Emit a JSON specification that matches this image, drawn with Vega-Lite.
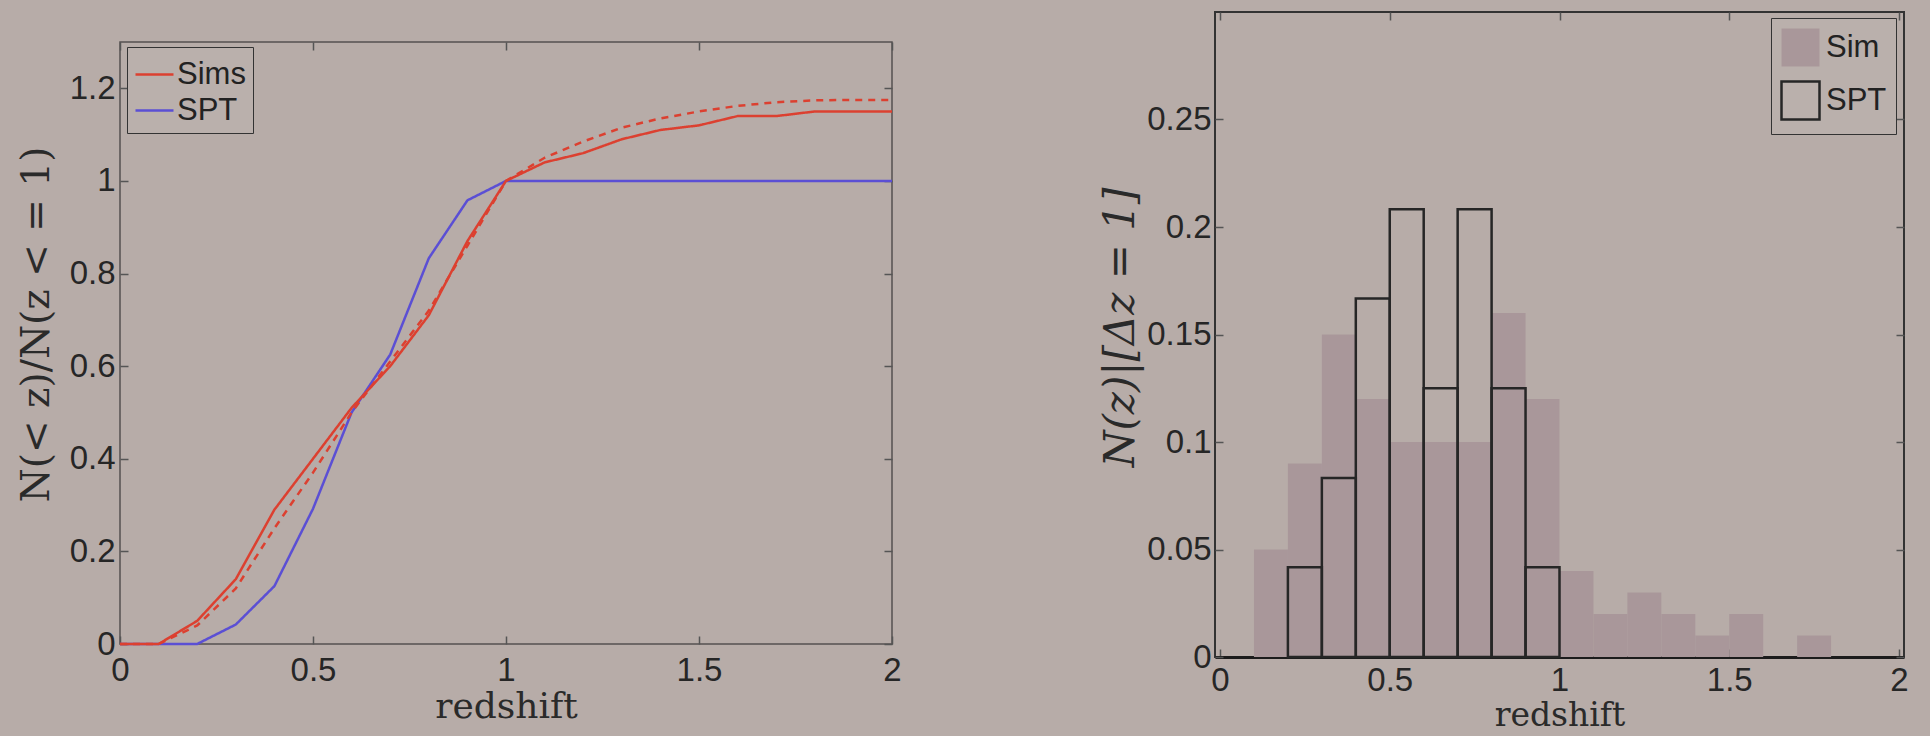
{
  "$schema": "https://vega.github.io/schema/vega-lite/v6.json",
  "autosize": {"type": "none"},
  "padding": {"left": 120, "top": 12, "right": 1810, "bottom": 724},
  "background": "#b7aca8",
  "spacing": 196,
  "config": {
    "axis": {
      "labelFont": "Liberation Sans",
      "labelFontSize": 33,
      "labelColor": "#262626",
      "titleFont": "DejaVu Serif",
      "titleFontSize": 36,
      "titleFontWeight": "normal",
      "titleColor": "#2a2a2a",
      "grid": false,
      "domain": false,
      "tickColor": "#555555",
      "tickWidth": 1.5,
      "tickSize": -8,
      "labelPadding": 18,
      "labelOverlap": false,
      "labelFlush": false,
      "labelBound": false,
      "format": "~g"
    },
    "legend": {
      "labelFont": "Liberation Sans",
      "labelFontSize": 31,
      "labelColor": "#222222",
      "strokeColor": "#333333",
      "fillColor": "#bab0ac",
      "cornerRadius": 0,
      "title": null
    }
  },
  "hconcat": [
    {
      "bounds": "flush",
      "spacing": 0,
      "vconcat": [
        {
          "width": 772,
          "height": 30,
          "view": {"stroke": null},
          "data": {"values": [{"a": 1}]},
          "mark": {"type": "point", "opacity": 0},
          "encoding": {}
        },
        {
          "width": 772,
          "height": 602,
          "view": {"stroke": "#555050", "strokeWidth": 1.5},
          "data": {
            "values": [
              {"z": 0, "n": 0, "series": "SPT"},
              {"z": 0.1, "n": 0, "series": "SPT"},
              {"z": 0.2, "n": 0, "series": "SPT"},
              {"z": 0.3, "n": 0.042, "series": "SPT"},
              {"z": 0.4, "n": 0.125, "series": "SPT"},
              {"z": 0.5, "n": 0.292, "series": "SPT"},
              {"z": 0.6, "n": 0.5, "series": "SPT"},
              {"z": 0.7, "n": 0.625, "series": "SPT"},
              {"z": 0.8, "n": 0.833, "series": "SPT"},
              {"z": 0.9, "n": 0.958, "series": "SPT"},
              {"z": 1.0, "n": 1.0, "series": "SPT"},
              {"z": 2.0, "n": 1.0, "series": "SPT"},
              {"z": 0, "n": 0, "series": "Sims model"},
              {"z": 0.1, "n": 0, "series": "Sims model"},
              {"z": 0.2, "n": 0.04, "series": "Sims model"},
              {"z": 0.3, "n": 0.12, "series": "Sims model"},
              {"z": 0.4, "n": 0.25, "series": "Sims model"},
              {"z": 0.5, "n": 0.37, "series": "Sims model"},
              {"z": 0.6, "n": 0.5, "series": "Sims model"},
              {"z": 0.7, "n": 0.61, "series": "Sims model"},
              {"z": 0.8, "n": 0.72, "series": "Sims model"},
              {"z": 0.9, "n": 0.86, "series": "Sims model"},
              {"z": 1.0, "n": 1.0, "series": "Sims model"},
              {"z": 1.1, "n": 1.05, "series": "Sims model"},
              {"z": 1.2, "n": 1.085, "series": "Sims model"},
              {"z": 1.3, "n": 1.115, "series": "Sims model"},
              {"z": 1.4, "n": 1.135, "series": "Sims model"},
              {"z": 1.5, "n": 1.15, "series": "Sims model"},
              {"z": 1.6, "n": 1.162, "series": "Sims model"},
              {"z": 1.7, "n": 1.17, "series": "Sims model"},
              {"z": 1.8, "n": 1.174, "series": "Sims model"},
              {"z": 1.9, "n": 1.175, "series": "Sims model"},
              {"z": 2.0, "n": 1.175, "series": "Sims model"},
              {"z": 0, "n": 0, "series": "Sims"},
              {"z": 0.1, "n": 0, "series": "Sims"},
              {"z": 0.2, "n": 0.05, "series": "Sims"},
              {"z": 0.3, "n": 0.14, "series": "Sims"},
              {"z": 0.4, "n": 0.29, "series": "Sims"},
              {"z": 0.5, "n": 0.4, "series": "Sims"},
              {"z": 0.6, "n": 0.51, "series": "Sims"},
              {"z": 0.7, "n": 0.6, "series": "Sims"},
              {"z": 0.8, "n": 0.71, "series": "Sims"},
              {"z": 0.9, "n": 0.87, "series": "Sims"},
              {"z": 1.0, "n": 1.0, "series": "Sims"},
              {"z": 1.1, "n": 1.04, "series": "Sims"},
              {"z": 1.2, "n": 1.06, "series": "Sims"},
              {"z": 1.3, "n": 1.09, "series": "Sims"},
              {"z": 1.4, "n": 1.11, "series": "Sims"},
              {"z": 1.5, "n": 1.12, "series": "Sims"},
              {"z": 1.6, "n": 1.14, "series": "Sims"},
              {"z": 1.7, "n": 1.14, "series": "Sims"},
              {"z": 1.8, "n": 1.15, "series": "Sims"},
              {"z": 1.9, "n": 1.15, "series": "Sims"},
              {"z": 2.0, "n": 1.15, "series": "Sims"}
            ]
          },
          "resolve": {"axis": {"x": "independent", "y": "independent"}},
          "layer": [
            {
              "mark": {"type": "line", "strokeWidth": 2.5},
              "encoding": {
                "x": {
                  "field": "z", "type": "quantitative",
                  "scale": {"domain": [0, 2], "nice": false, "zero": false},
                  "axis": {"values": [0, 0.5, 1, 1.5, 2], "title": "redshift", "titlePadding": 2}
                },
                "y": {
                  "field": "n", "type": "quantitative",
                  "scale": {"domain": [0, 1.3], "nice": false},
                  "axis": {"values": [0, 0.2, 0.4, 0.6, 0.8, 1, 1.2], "title": "N(< z)/N(z < = 1)", "titleFontSize": 39, "titleY": 282, "labelPadding": 13, "titlePadding": 13}
                },
                "color": {
                  "field": "series", "type": "nominal",
                  "scale": {"domain": ["Sims", "SPT", "Sims model"], "range": ["#dc4030", "#5b4fd4", "#dc4030"]},
                  "legend": {
                    "values": ["Sims", "SPT"],
                    "orient": "none", "legendX": 7, "legendY": 35,
                    "symbolType": "stroke", "symbolSize": 1444, "symbolStrokeWidth": 2.5,
                    "rowPadding": 0, "padding": 7, "labelOffset": 2
                  }
                },
                "strokeDash": {
                  "field": "series", "type": "nominal",
                  "scale": {"domain": ["Sims", "SPT", "Sims model"], "range": [[1, 0], [1, 0], [7, 6]]},
                  "legend": null
                }
              }
            },
            {
              "mark": {"type": "point", "opacity": 0},
              "encoding": {
                "x": {
                  "field": "z", "type": "quantitative",
                  "axis": {"orient": "top", "values": [0, 0.5, 1, 1.5, 2], "labels": false, "title": null}
                },
                "y": {
                  "field": "n", "type": "quantitative",
                  "axis": {"orient": "right", "values": [0, 0.2, 0.4, 0.6, 0.8, 1, 1.2], "labels": false, "title": null}
                }
              }
            }
          ]
        }
      ]
    },
    {
      "width": 689,
      "height": 645,
      "view": {"stroke": "#333333", "strokeWidth": 2},
      "data": {
        "values": [
          {"z0": 0.1, "z1": 0.2, "v": 0.05, "series": "Sim"},
          {"z0": 0.2, "z1": 0.3, "v": 0.09, "series": "Sim"},
          {"z0": 0.3, "z1": 0.4, "v": 0.15, "series": "Sim"},
          {"z0": 0.4, "z1": 0.5, "v": 0.12, "series": "Sim"},
          {"z0": 0.5, "z1": 0.6, "v": 0.10, "series": "Sim"},
          {"z0": 0.6, "z1": 0.7, "v": 0.10, "series": "Sim"},
          {"z0": 0.7, "z1": 0.8, "v": 0.10, "series": "Sim"},
          {"z0": 0.8, "z1": 0.9, "v": 0.16, "series": "Sim"},
          {"z0": 0.9, "z1": 1.0, "v": 0.12, "series": "Sim"},
          {"z0": 1.0, "z1": 1.1, "v": 0.04, "series": "Sim"},
          {"z0": 1.1, "z1": 1.2, "v": 0.02, "series": "Sim"},
          {"z0": 1.2, "z1": 1.3, "v": 0.03, "series": "Sim"},
          {"z0": 1.3, "z1": 1.4, "v": 0.02, "series": "Sim"},
          {"z0": 1.4, "z1": 1.5, "v": 0.01, "series": "Sim"},
          {"z0": 1.5, "z1": 1.6, "v": 0.02, "series": "Sim"},
          {"z0": 1.7, "z1": 1.8, "v": 0.01, "series": "Sim"},
          {"z0": 0.2, "z1": 0.3, "v": 0.0417, "series": "SPT"},
          {"z0": 0.3, "z1": 0.4, "v": 0.0833, "series": "SPT"},
          {"z0": 0.4, "z1": 0.5, "v": 0.1667, "series": "SPT"},
          {"z0": 0.5, "z1": 0.6, "v": 0.2083, "series": "SPT"},
          {"z0": 0.6, "z1": 0.7, "v": 0.125, "series": "SPT"},
          {"z0": 0.7, "z1": 0.8, "v": 0.2083, "series": "SPT"},
          {"z0": 0.8, "z1": 0.9, "v": 0.125, "series": "SPT"},
          {"z0": 0.9, "z1": 1.0, "v": 0.0417, "series": "SPT"}
        ]
      },
      "resolve": {"axis": {"x": "independent", "y": "independent"}},
      "layer": [
        {
          "mark": {"type": "bar", "strokeWidth": 2.5, "orient": "vertical"},
          "encoding": {
            "x": {
              "field": "z0", "type": "quantitative",
              "scale": {"domain": [0, 2], "nice": false, "zero": false},
              "axis": {"values": [0, 0.5, 1, 1.5, 2], "title": "redshift", "labelPadding": 15, "titlePadding": 2, "titleFontSize": 33, "domain": true, "domainColor": "#1c1c1c", "domainWidth": 3}
            },
            "x2": {"field": "z1"},
            "y": {
              "field": "v", "type": "quantitative",
              "scale": {"domain": [0, 0.3], "nice": false},
              "axis": {"values": [0, 0.05, 0.1, 0.15, 0.2, 0.25], "title": "N(z)|[Δz = 1]", "titleFontStyle": "italic", "titleFontSize": 42, "titleY": 315, "labelPadding": 12, "titlePadding": 4}
            },
            "y2": {"datum": 0},
            "fill": {
              "field": "series", "type": "nominal",
              "scale": {"domain": ["Sim", "SPT"], "range": ["#a9979a", "transparent"]},
              "legend": {
                "orient": "none", "legendX": 1651, "legendY": 6,
                "symbolType": "square", "symbolSize": 1444, "symbolStrokeWidth": 2.5,
                "rowPadding": 4, "padding": 9, "labelOffset": 5
              }
            },
            "stroke": {
              "field": "series", "type": "nominal",
              "scale": {"domain": ["Sim", "SPT"], "range": ["transparent", "#262626"]},
              "legend": {
                "orient": "none", "legendX": 1651, "legendY": 6,
                "symbolType": "square", "symbolSize": 1444, "symbolStrokeWidth": 2.5,
                "rowPadding": 4, "padding": 9, "labelOffset": 5
              }
            }
          }
        },
        {
          "mark": {"type": "point", "opacity": 0},
          "encoding": {
            "x": {
              "field": "z0", "type": "quantitative",
              "axis": {"orient": "top", "values": [0, 0.5, 1, 1.5, 2], "labels": false, "title": null}
            },
            "y": {
              "field": "v", "type": "quantitative",
              "axis": {"orient": "right", "values": [0, 0.05, 0.1, 0.15, 0.2, 0.25], "labels": false, "title": null}
            }
          }
        }
      ]
    }
  ]
}
